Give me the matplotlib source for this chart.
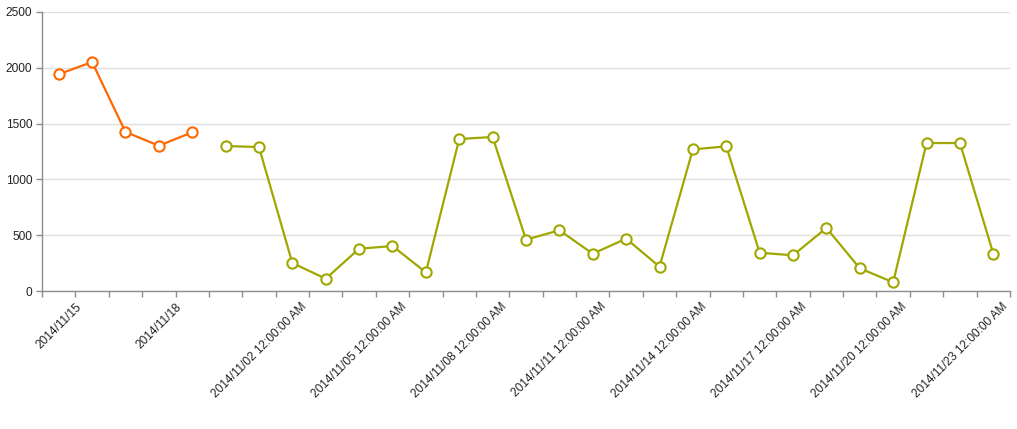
import numpy as np
import matplotlib
matplotlib.use("Agg")
import matplotlib.pyplot as plt
from matplotlib.ticker import FixedLocator, NullFormatter

plt.rcParams["font.family"] = ["Liberation Sans", "DejaVu Sans"]

categories = [
    "2014/11/15", "2014/11/16", "2014/11/17", "2014/11/18", "2014/11/19",
    "2014/11/01 12:00:00 AM", "2014/11/02 12:00:00 AM", "2014/11/03 12:00:00 AM",
    "2014/11/04 12:00:00 AM", "2014/11/05 12:00:00 AM", "2014/11/06 12:00:00 AM",
    "2014/11/07 12:00:00 AM", "2014/11/08 12:00:00 AM", "2014/11/09 12:00:00 AM",
    "2014/11/10 12:00:00 AM", "2014/11/11 12:00:00 AM", "2014/11/12 12:00:00 AM",
    "2014/11/13 12:00:00 AM", "2014/11/14 12:00:00 AM", "2014/11/15 12:00:00 AM",
    "2014/11/16 12:00:00 AM", "2014/11/17 12:00:00 AM", "2014/11/18 12:00:00 AM",
    "2014/11/19 12:00:00 AM", "2014/11/20 12:00:00 AM", "2014/11/21 12:00:00 AM",
    "2014/11/22 12:00:00 AM", "2014/11/23 12:00:00 AM", "2014/11/24 12:00:00 AM",
]

orange_values = [1942, 2052, 1425, 1302, 1422]
olive_values = [1299, 1290, 251, 110, 379, 403, 167, 1362, 1380, 460,
                544, 334, 469, 218, 1269, 1296, 343, 320, 565, 203,
                78, 1326, 1326, 334]

y_ticks = [0, 500, 1000, 1500, 2000, 2500]
label_step = 3

ORANGE = "#ff6800"
OLIVE = "#a0a700"
TEXT = "#232323"
AXIS = "#8e8e8e"
GRID = "#dfdfdf"

n = len(categories)
x_all = np.arange(n)
x_orange = x_all[:len(orange_values)]
x_olive = x_all[len(orange_values):len(orange_values) + len(olive_values)]

fig = plt.figure(figsize=(10.17, 4.29), dpi=100)
ax = fig.add_axes([42 / 1017, (429 - 291) / 429, (1010 - 42) / 1017, (291 - 12) / 429])

for xs, ys, col in [(x_orange, orange_values, ORANGE), (x_olive, olive_values, OLIVE)]:
    ax.plot(xs, ys, color=col, lw=1.6, marker="o", ms=7.4, mfc="white",
            mec=col, mew=1.5, zorder=3, clip_on=False)

ax.set_xlim(-0.5, n - 0.5)
ax.set_ylim(0, 2500)

ax.set_yticks(y_ticks)
ax.set_yticklabels([str(v) for v in y_ticks])
ax.yaxis.grid(True, color=GRID, lw=1)
ax.set_axisbelow(True)

major = list(range(0, n, label_step))
ax.xaxis.set_major_locator(FixedLocator(major))
ax.set_xticklabels([categories[i] for i in major], rotation=45, ha="center", va="top")
ax.xaxis.set_minor_locator(FixedLocator(np.arange(-0.5, n, 1.0)))
ax.xaxis.set_minor_formatter(NullFormatter())

ax.tick_params(axis="x", which="major", length=0, pad=7, labelsize=8.6, labelcolor=TEXT)
ax.tick_params(axis="x", which="minor", length=4, width=1, color=AXIS)
ax.tick_params(axis="y", length=4, width=1, color=AXIS, pad=3, labelsize=8.6, labelcolor=TEXT)

for side in ["top", "right"]:
    ax.spines[side].set_visible(False)
for side in ["left", "bottom"]:
    ax.spines[side].set_color(AXIS)
    ax.spines[side].set_linewidth(1)

fig.savefig("out.png", dpi=100, facecolor="white")
